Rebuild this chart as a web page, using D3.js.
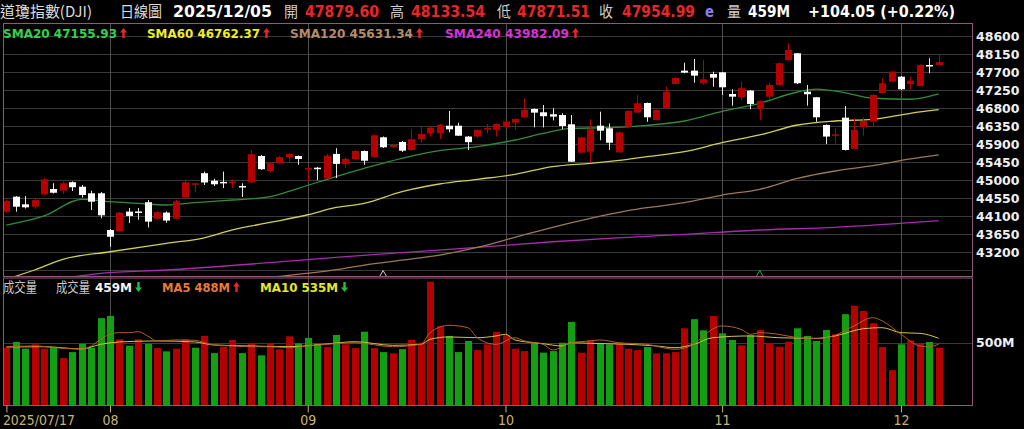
<!DOCTYPE html>
<html>
<head>
<meta charset="utf-8">
<script src="https://cdn.jsdelivr.net/npm/d3@7"></script>
<style>
  body { margin: 0; background: #000; }
  svg { display: block; }
</style>
</head>
<body>
<div id="chart"></div>
<script>
// 道瓊指數 日線 2025/07/17 ~ 2025/12/05
var opens = [44209, 44585, 44394, 44334, 44645, 44777, 44737, 44948, 44835, 44670,
             44670, 43751, 43716, 44212, 44215, 44447, 44032, 44187, 44032, 44561,
             44896, 45173, 44985, 44956, 44940, 44853, 44941, 45604, 45228, 45424,
             45574, 45604, 45291, 45311, 45041, 45656, 45398, 45521, 45729, 45574,
             46072, 45829, 45954, 45754, 46024, 46172, 46172, 46362, 46362, 46090,
             46090, 46280, 46258, 46325, 46438, 46573, 46781, 46698, 46648, 46630,
             46398, 45686, 45710, 46362, 46297, 45692, 46337, 46689, 46931, 46505,
             46798, 47407, 47740, 47740, 47424, 47657, 47699, 47156, 47074, 47241,
             46781, 47089, 47382, 48007, 48175, 47214, 47074, 46380, 46130, 46563,
             45781, 46325, 46465, 47176, 47466, 47589, 47407, 47357, 47882, 47879.60];
var highs = [44515, 44600, 44602, 44527, 45052, 44923, 44962, 44968, 44878, 44733,
             44703, 43776, 44205, 44302, 44302, 44502, 44232, 44217, 44502, 44980,
             44929, 45213, 45035, 45213, 45021, 44921, 45754, 45629, 45444, 45604,
             45669, 45616, 45316, 45328, 45654, 45799, 45556, 45754, 45741, 46143,
             46092, 45905, 45979, 46275, 46325, 46330, 46405, 46731, 46437, 46105,
             46270, 46405, 46420, 46480, 46543, 47049, 46793, 46881, 46798, 46673,
             46630, 46092, 46523, 46714, 46420, 46217, 46743, 47131, 46943, 46768,
             47339, 47577, 47940, 48032, 48007, 47714, 47707, 47274, 47464, 47256,
             46993, 47441, 47945, 48426, 48183, 47382, 47081, 46393, 46297, 46856,
             46548, 46573, 47144, 47549, 47735, 47607, 47589, 47895, 48050, 48133.54];
var lows = [44177, 44209, 44290, 44277, 44627, 44666, 44654, 44727, 44561, 44252,
            44044, 43332, 43708, 43926, 44009, 43814, 44009, 43932, 44020, 44553,
            44695, 44878, 44853, 44801, 44801, 44577, 44929, 45255, 45191, 45406,
            45446, 45381, 44966, 44997, 45034, 45051, 45311, 45504, 45381, 45569,
            45804, 45817, 45704, 45729, 45938, 46090, 46024, 46197, 46105, 45754,
            46049, 46172, 46090, 46307, 46255, 46568, 46320, 46320, 46493, 46275,
            45453, 45679, 45436, 45999, 45754, 45684, 46330, 46681, 46460, 46493,
            46793, 47390, 47675, 47439, 47381, 47339, 47131, 46863, 47006, 46774,
            46505, 47024, 47369, 47994, 47407, 46863, 46460, 45904, 45922, 45741,
            45771, 46115, 46355, 47171, 47459, 47256, 47274, 47344, 47675, 47871.51];
var closes = [44477, 44334, 44319, 44502, 45020, 44684, 44921, 44822, 44627, 44460,
              44119, 43583, 44187, 44104, 44193, 43961, 44200, 43987, 44470, 44948,
              44921, 44941, 44896, 44929, 44965, 44828, 45649, 45273, 45424, 45574,
              45656, 45529, 45303, 45273, 45611, 45406, 45531, 45729, 45486, 46123,
              45822, 45880, 45736, 46024, 46155, 46315, 46387, 46272, 46112, 45950,
              46258, 46305, 46408, 46465, 46531, 46756, 46689, 46600, 46590, 46355,
              45461, 46072, 46275, 46237, 45936, 46197, 46731, 46923, 46573, 46756,
              47214, 47557, 47690, 47615, 47524, 47564, 47324, 47089, 47301, 46906,
              46981, 47382, 47925, 48258, 47424, 47149, 46573, 46090, 46147, 45754,
              46255, 46480, 47131, 47424, 47717, 47274, 47489, 47882, 47850.94, 47954.99];
var prevClose = 44254; // 2025/07/16
// 成交量 (百萬股)
var volumes = [460, 506, 452, 487, 452, 465, 377, 425, 492, 460,
               696, 714, 527, 476, 527, 492, 457, 431, 452, 527,
               460, 554, 417, 468, 522, 417, 495, 399, 495, 447,
               551, 495, 538, 492, 465, 562, 487, 457, 588, 457,
               425, 415, 449, 522, 500, 987, 634, 554, 425, 514,
               441, 487, 586, 559, 452, 433, 500, 420, 433, 500,
               666, 420, 522, 492, 487, 500, 452, 441, 465, 415,
               415, 425, 615, 688, 599, 714, 575, 522, 479, 559,
               602, 495, 468, 508, 615, 554, 514, 602, 567, 728,
               795, 754, 656, 465, 281, 487, 519, 492, 506, 459];

// 均線 [日序, 值]
var sma20 = [[0, 43876], [4, 44104], [8, 44519], [11, 44460], [14, 44419], [17, 44377], [20, 44435],
             [24, 44502], [28, 44585], [31, 44795], [35, 45090], [38, 45295], [42, 45545], [46, 45736],
             [50, 45836], [54, 46004], [57, 46171], [60, 46296], [64, 46312], [68, 46370], [72, 46480],
             [76, 46720], [80, 46923], [84, 47206], [86, 47280], [89, 47191], [92, 47049], [96, 47024],
             [99, 47155.93]];
var sma60 = [[0, 42520], [3, 42750], [6, 43017], [11, 43207], [17, 43417], [21, 43557], [24, 43757],
             [28, 43940], [32, 44133], [35, 44315], [38, 44419], [42, 44712], [46, 44903], [50, 45020],
             [54, 45146], [58, 45336], [62, 45421], [66, 45521], [68, 45586], [72, 45711], [76, 45937],
             [80, 46130], [84, 46380], [88, 46480], [92, 46523], [96, 46673], [99, 46762.37]];
var sma120 = [[24, 42480], [29, 42590], [35, 42758], [38, 42874], [42, 42998], [46, 43124], [50, 43316],
              [54, 43567], [58, 43818], [62, 44043], [66, 44234], [68, 44309], [72, 44434], [76, 44627],
              [80, 44770], [84, 45045], [88, 45228], [92, 45361], [96, 45529], [99, 45631.34]];
var sma240 = [[0, 42420], [6, 42543], [10, 42667], [17, 42750], [28, 42934], [35, 43068], [42, 43184],
              [50, 43317], [58, 43457], [66, 43567], [72, 43643], [80, 43751], [88, 43818], [96, 43934],
              [99, 43982.09]];
var volMa5 = [[0, 466], [3, 474], [6, 455], [8, 450], [9, 474], [10, 527], [11, 567], [12, 580], [13, 580],
              [14, 588], [15, 554], [16, 514], [18, 522], [20, 519], [22, 482], [24, 474], [26, 468],
              [28, 468], [30, 460], [32, 474], [34, 487], [37, 500], [41, 468], [44, 487], [45, 580],
              [47, 639], [49, 620], [50, 540], [52, 487], [54, 540], [55, 514], [57, 487], [58, 442],
              [60, 500], [62, 514], [63, 522], [65, 500], [68, 487], [71, 447], [73, 487], [74, 554],
              [76, 634], [78, 607], [79, 567], [80, 580], [82, 567], [84, 540], [86, 532], [88, 559],
              [90, 634], [92, 700], [93, 674], [95, 567], [97, 474], [98, 468], [99, 488]];
var volMa10 = [[0, 466], [4, 468], [8, 450], [10, 487], [12, 506], [16, 514], [20, 506], [22, 482],
               [26, 474], [30, 468], [34, 490], [37, 508], [41, 479], [44, 487], [45, 527], [47, 546],
               [50, 540], [52, 554], [53, 567], [54, 522], [57, 492], [59, 474], [60, 500], [62, 495],
               [66, 487], [69, 474], [71, 460], [73, 487], [75, 540], [79, 554], [82, 540], [86, 535],
               [88, 554], [91, 612], [93, 620], [95, 580], [97, 575], [99, 535]];

var priceTicks = [48600, 48150, 47700, 47250, 46800, 46350, 45900, 45450, 45000, 44550, 44100, 43650, 43200];
var priceGrid = priceTicks.concat([42750]);
var volTicks = [500];
var monthTicks = [0, 11, 32, 53, 76, 95];
var monthLabels = ["2025/07/17", "08", "09", "10", "11", "12"];
var markIdx = [40, 80];
var markColors = ["#d0d0d0", "#20b040"];

var width = 1024, height = 429;
var left = 3, right = 972;
var pTop = 23, pBottom = 276.5, vTop = 277.5, vBottom = 405.5;

var red = "#b40000", green = "#12a012", frame = "#8e5a78", grid = "#3a3a3a", vgrid = "#4e4e4e";
var numFont = "'DejaVu Sans', Verdana, sans-serif";
var cjkFont = "'Noto Sans CJK TC', 'Noto Sans CJK SC', sans-serif";

var svg = d3.select("#chart").append("svg")
            .attr("width", width)
            .attr("height", height)
            .style("background", "#000");

var x = d3.scaleLinear().domain([0, 99]).range([6.4, 938.7]);
var y = d3.scaleLinear().domain([42750, 48600]).range([270, 36.3]);
var yv = d3.scaleLinear().domain([0, 500]).range([405.3, 342.7]);

var defs = svg.append("defs");
defs.append("clipPath").attr("id", "clipP").append("rect")
    .attr("x", left).attr("y", pTop).attr("width", right - left).attr("height", pBottom - pTop);
defs.append("clipPath").attr("id", "clipV").append("rect")
    .attr("x", left).attr("y", vTop).attr("width", right - left).attr("height", vBottom - vTop);

// 格線
svg.append("g").selectAll("line")
   .data(priceGrid).enter().append("line")
   .attr("x1", left).attr("x2", right)
   .attr("y1", function(d) { return Math.round(y(d)) + 0.5; })
   .attr("y2", function(d) { return Math.round(y(d)) + 0.5; })
   .attr("stroke", grid);

svg.append("g").selectAll("line")
   .data(volTicks).enter().append("line")
   .attr("x1", left).attr("x2", right)
   .attr("y1", function(d) { return Math.round(yv(d)) + 0.5; })
   .attr("y2", function(d) { return Math.round(yv(d)) + 0.5; })
   .attr("stroke", grid);

svg.append("g").selectAll("line")
   .data(monthTicks.slice(1)).enter().append("line")
   .attr("x1", function(d) { return Math.round(x(d)) + 0.5; })
   .attr("x2", function(d) { return Math.round(x(d)) + 0.5; })
   .attr("y1", pTop).attr("y2", vBottom)
   .attr("stroke", vgrid);

// 均線
var maLine = function(sc) {
    return d3.line()
             .x(function(d) { return x(d[0]); })
             .y(function(d) { return sc(d[1]); })
             .curve(d3.curveMonotoneX);
};

var gP = svg.append("g").attr("clip-path", "url(#clipP)");
[[sma240, "#a52cad"], [sma120, "#9a7858"], [sma60, "#cfcf55"], [sma20, "#2e8c3c"]].forEach(function(s) {
    gP.append("path")
      .attr("d", maLine(y)(s[0]))
      .attr("fill", "none")
      .attr("stroke", s[1])
      .attr("stroke-width", 1.3);
});

// K線
var idx = d3.range(closes.length);
var candle = gP.selectAll("g.k").data(idx).enter().append("g").attr("class", "k");

candle.append("line")
      .attr("x1", function(i) { return Math.round(x(i)) + 0.5; })
      .attr("x2", function(i) { return Math.round(x(i)) + 0.5; })
      .attr("y1", function(i) { return y(highs[i]); })
      .attr("y2", function(i) { return y(lows[i]); })
      .attr("stroke", function(i) { return closes[i] > opens[i] ? red : "#e8e8e8"; })
      .attr("stroke-width", 1);

candle.append("rect")
      .attr("x", function(i) { return Math.round(x(i)) - 3; })
      .attr("width", 7)
      .attr("y", function(i) { return y(Math.max(opens[i], closes[i])); })
      .attr("height", function(i) { return Math.max(1.5, Math.abs(y(opens[i]) - y(closes[i]))); })
      .attr("fill", function(i) { return closes[i] > opens[i] ? red : "#ffffff"; });

// 記號
gP.selectAll("path.mark").data(markIdx).enter().append("path")
  .attr("class", "mark")
  .attr("d", function(d) { var cx = x(d); return "M" + (cx - 3.5) + ",276.5L" + cx + ",270.5L" + (cx + 3.5) + ",276.5"; })
  .attr("fill", "none")
  .attr("stroke", function(d, i) { return markColors[i]; })
  .attr("stroke-width", 1);

// 成交量
var gV = svg.append("g").attr("clip-path", "url(#clipV)");
gV.selectAll("rect").data(idx).enter().append("rect")
  .attr("x", function(i) { return Math.round(x(i)) - 3; })
  .attr("width", 7)
  .attr("y", function(i) { return yv(volumes[i]); })
  .attr("height", function(i) { return yv(0) - yv(volumes[i]); })
  .attr("fill", function(i) {
      var pc = i === 0 ? prevClose : closes[i - 1];
      return closes[i] >= pc ? red : green;
  });

[[volMa10, "#d4c440"], [volMa5, "#b0602e"]].forEach(function(s) {
    gV.append("path")
      .attr("d", maLine(yv)(s[0]))
      .attr("fill", "none")
      .attr("stroke", s[1])
      .attr("stroke-width", 1);
});

// 外框
svg.append("rect").attr("x", left + 0.5).attr("y", pTop + 0.5)
   .attr("width", right - left).attr("height", pBottom - pTop - 0.5)
   .attr("fill", "none").attr("stroke", frame);
svg.append("rect").attr("x", left + 0.5).attr("y", vTop + 0.5)
   .attr("width", right - left).attr("height", vBottom - vTop - 0.5)
   .attr("fill", "none").attr("stroke", frame);

// 右側刻度
var yAxis = svg.append("g")
               .attr("transform", "translate(" + right + ",0)")
               .call(d3.axisRight(y).tickValues(priceTicks).tickSize(0).tickPadding(4).tickFormat(d3.format("d")));
yAxis.select(".domain").remove();
yAxis.selectAll("text")
     .attr("fill", "#f0f0f0")
     .style("font", "bold 12.5px " + numFont);

var vAxis = svg.append("g")
               .attr("transform", "translate(" + right + ",0)")
               .call(d3.axisRight(yv).tickValues(volTicks).tickSize(0).tickPadding(4).tickFormat(function(d) { return d + "M"; }));
vAxis.select(".domain").remove();
vAxis.selectAll("text")
     .attr("fill", "#f0f0f0")
     .style("font", "bold 12.5px " + numFont);

// 日期軸
var xAxis = svg.append("g")
               .attr("transform", "translate(0," + vBottom + ")")
               .call(d3.axisBottom(x).tickValues(monthTicks).tickSize(7).tickPadding(3)
                       .tickFormat(function(d, i) { return monthLabels[i]; }));
xAxis.select(".domain").remove();
xAxis.selectAll("line").attr("stroke", "#c8b46e");
xAxis.selectAll("text")
     .attr("fill", "#c8b46e")
     .style("font", "14px 'Liberation Sans Narrow', 'DejaVu Sans Condensed', sans-serif")
     .attr("text-anchor", function(d, i) { return i === 0 ? "start" : "middle"; })
     .attr("x", function(d, i) { return i === 0 ? -4 : 0; })
     .each(function(d, i) {
         if (i === 0) d3.select(this).attr("textLength", 72).attr("lengthAdjust", "spacingAndGlyphs");
     });

// 文字
function txt(s, x0, y0, color, font, len) {
    var t = svg.append("text")
               .attr("x", x0).attr("y", y0)
               .attr("fill", color)
               .style("font", font)
               .text(s);
    if (len) t.attr("textLength", len).attr("lengthAdjust", "spacingAndGlyphs");
    return t;
}

function arrow(x0, y0, up, color) {
    var p = up ? "M" + (x0 + 3.5) + "," + y0 + "l3.5,4.5h-2.3v5.5h-2.4v-5.5h-2.3z"
               : "M" + (x0 + 3.5) + "," + (y0 + 10) + "l3.5,-4.5h-2.3v-5.5h-2.4v5.5h-2.3z";
    svg.append("path").attr("d", p).attr("fill", color);
}

var last = closes.length - 1;
var chg = closes[last] - closes[last - 1];
var fmt = d3.format(".2f");
var big = "bold 16px " + numFont;
var cjk = "15px " + cjkFont;

txt("道瓊指數(DJI)", 0, 16.5, "#dcdcdc", cjk, 92);
txt("日線圖", 120, 16.5, "#dcdcdc", cjk, 42);
txt("2025/12/05", 173, 17, "#ffffff", big, 99);
txt("開", 284, 16.5, "#cfcfcf", cjk, 14);
txt(fmt(opens[last]), 305, 17, "#e8262a", big, 74);
txt("高", 390, 16.5, "#cfcfcf", cjk, 14);
txt(fmt(highs[last]), 411, 17, "#e8262a", big, 74);
txt("低", 497, 16.5, "#cfcfcf", cjk, 14);
txt(fmt(lows[last]), 517, 17, "#e8262a", big, 73);
txt("收", 599, 16.5, "#cfcfcf", cjk, 14);
txt(fmt(closes[last]), 622, 17, "#e8262a", big, 73);
txt("e", 705, 17, "#8c7cf0", big, 9);
txt("量", 727, 16.5, "#cfcfcf", cjk, 14);
txt(volumes[last] + "M", 748, 17, "#ffffff", big, 42);
txt("+" + fmt(chg) + " (+" + fmt(chg / closes[last - 1] * 100) + "%)", 808, 17, "#ffffff", big, 147);

var lg = "bold 13px " + numFont;
var smaLast = [["SMA20 ", sma20, "#36d04e", 3, 114, 120], ["SMA60 ", sma60, "#eeee28", 147, 113, 263],
               ["SMA120 ", sma120, "#b48c6a", 290, 123, 416], ["SMA240 ", sma240, "#d434d4", 445, 124, 572]];
smaLast.forEach(function(s) {
    var v = s[1][s[1].length - 1][1];
    txt(s[0] + fmt(v), s[3], 38, s[2], lg, s[4]);
    arrow(s[5], 28, true, "#e8262a");
});

txt("成交量", 3, 292, "#c8c8c8", "14px " + cjkFont, 34);
txt("成交量", 56, 292, "#c8c8c8", "14px " + cjkFont, 34);
txt(volumes[last] + "M", 95, 292, "#f4f4f4", lg, 37);
arrow(135, 282, false, "#20c040");
txt("MA5 " + volMa5[volMa5.length - 1][1] + "M", 162, 292, "#e87a3a", lg, 68);
arrow(233, 282, true, "#e8262a");
txt("MA10 " + volMa10[volMa10.length - 1][1] + "M", 260, 292, "#e6e626", lg, 78);
arrow(341, 282, false, "#20c040");
</script>
</body>
</html>
